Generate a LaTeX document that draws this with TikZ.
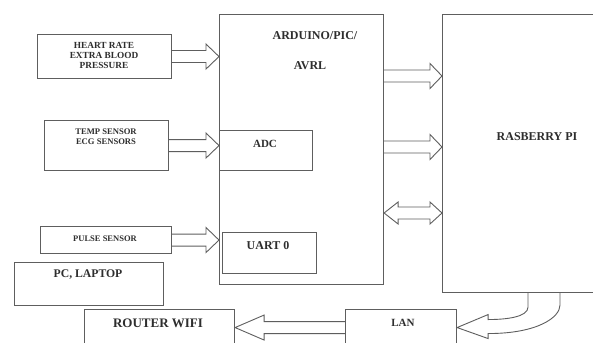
\documentclass[tikz,border=0pt]{standalone}
\usepackage{fontspec}
\setmainfont{Liberation Serif}
\usetikzlibrary{calc,positioning}
\definecolor{edge}{HTML}{5E5E5E}
\definecolor{ink}{HTML}{2E2E2E}
\tikzset{x=1pt,y=-1pt,
  box/.style={draw=edge,line width=1.1pt,inner sep=0pt,anchor=north west},
  fat/.style={draw=edge,line width=.9pt,line join=miter},
  lbl/.style={font=\bfseries\fontsize{12}{13}\selectfont,text=ink},
  small/.style={font=\bfseries\fontsize{8.8}{10}\selectfont,text=ink,align=center}}
% hollow block arrow, optional arg = head length (negative points left)
\newcommand{\fatarrow}[3][13]{%
  \draw[fat] let \p1=#2, \p2=#3 in
    (\x1,\y1+6pt) -- ({\x2-(#1pt)},\y1+6pt) -- ({\x2-(#1pt)},\y1+12.5pt)
    -- (\x2,\y1) -- ({\x2-(#1pt)},\y1-12.5pt) -- ({\x2-(#1pt)},\y1-6pt) -- (\x1,\y1-6pt);}
\newcommand{\fatdarrow}[2]{%
  \draw[fat] let \p1=#1, \p2=#2 in
    (\x1,\y1) -- (\x1+14pt,\y1+11pt) -- (\x1+14pt,\y1+6pt) -- (\x2-12pt,\y1+6pt)
    -- (\x2-12pt,\y1+11pt) -- (\x2,\y1) -- (\x2-12pt,\y1-11pt) -- (\x2-12pt,\y1-6pt)
    -- (\x1+14pt,\y1-6pt) -- (\x1+14pt,\y1-11pt) -- cycle;}
\begin{document}
\begin{tikzpicture}
\useasboundingbox[fill=white] (0,0) rectangle (593,342);
\clip (0,0) rectangle (593,342);
% sensors
\node[box,minimum width=134pt,minimum height=44pt] (heart) at (37,34) {};
\node[small,font=\bfseries\fontsize{9.3}{10}\selectfont] (hearttxt) at (104,55) {HEART RATE\\EXTRA BLOOD\\PRESSURE};
\node[box,minimum width=124pt,minimum height=50pt] (temp) at (44,120) {};
\node[small,font=\bfseries\fontsize{8.6}{10}\selectfont] (temptxt) at (106,137) {TEMP SENSOR\\ECG SENSORS};
\node[box,minimum width=131pt,minimum height=27pt] (pulse) at (40,226) {};
\node[small,font=\bfseries\fontsize{8.5}{10}\selectfont] (pulsetxt) at (105,239) {PULSE SENSOR};
\node[box,minimum width=149pt,minimum height=43pt] (pc) at (14,262) {};
\node[lbl,font=\bfseries\fontsize{11.7}{13}\selectfont] (pctxt) at (88,275) {PC, LAPTOP};
\node[box,minimum width=150pt,minimum height=36pt] (router) at (84,309) {};
\node[lbl,font=\bfseries\fontsize{13}{14}\selectfont] (routertxt) at (158,323) {ROUTER WIFI};
% controller
\node[box,minimum width=164pt,minimum height=270pt] (mcu) at (219,14) {};
\node[lbl] (mcutxt) at (315,36) {ARDUINO/PIC/};
\node[lbl] (avrtxt) at (310,66) {AVRL};
\node[box,minimum width=93pt,minimum height=40pt] (adc) at (219,130) {};
\node[lbl,font=\bfseries\fontsize{11}{12}\selectfont] (adctxt) at (265,144) {ADC};
\node[box,minimum width=94pt,minimum height=41pt] (uart) at (222,232) {};
\node[lbl] (uarttxt) at (268,246) {UART 0};
% pi and network
\node[box,minimum width=190pt,minimum height=278pt] (rpi) at (442,14) {};
\node[lbl] (rpitxt) at (537,137) {RASBERRY PI};
\node[box,minimum width=111pt,minimum height=36pt] (lan) at (345,309) {};
\node[lbl,font=\bfseries\fontsize{11}{12}\selectfont] (lantxt) at (403,323) {LAN};
% arrows
\fatarrow{(heart.east)}{(mcu.west)}
\fatarrow{(temp.east)}{(mcu.west)}
\fatarrow{(pulse.east)}{(mcu.west)}
\fatarrow[12]{($(mcu.north east)+(0,62)$)}{(rpi.west)}
\fatarrow[12]{($(mcu.north east)+(0,133)$)}{(rpi.west)}
\fatdarrow{($(mcu.north east)+(0,199)$)}{(rpi.west)}
\fatarrow[-29]{(lan.west)}{(router.east)}
\draw[fat] ($(rpi.south west)+(86,0)$) -- ++(0,14) .. controls +(0,10) and +(18,0) .. ($(lan.east)+(31,-8)$)
  -- ++(0,-5) -- (lan.east) -- ($(lan.east)+(31,11)$) -- ++(0,-5)
  .. controls +(50,0) and +(0,12) .. ($(rpi.south west)+(118,12)$) -- ++(0,-12);
\end{tikzpicture}
\end{document}
